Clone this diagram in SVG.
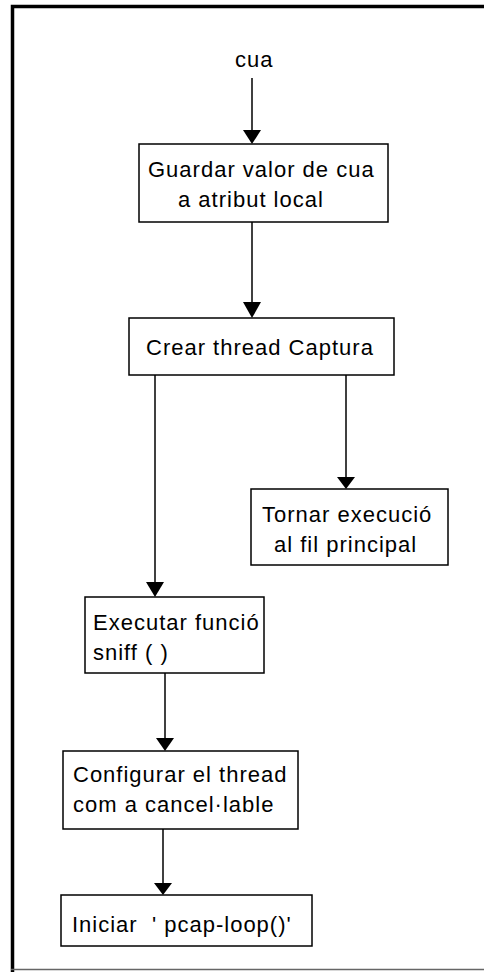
<svg xmlns="http://www.w3.org/2000/svg" width="484" height="972" viewBox="0 0 484 972">
<style>
.box{fill:#fff;stroke:#000;stroke-width:1.5}
.t{font-family:"Liberation Sans",Arial,sans-serif;font-size:22px;letter-spacing:1px;fill:#000;white-space:pre}
.c{stroke:#000;stroke-width:1.5;fill:none}
.ah{fill:#000}
</style>
<rect width="484" height="972" fill="#fff"/>
<g id="frame">
<path d="M12.5 972 V6.5 H484" fill="none" stroke="#000" stroke-width="3.5"/>
<line x1="11" y1="969.5" x2="484" y2="969.5" stroke="#666" stroke-width="1.5"/>
</g>
<g id="connectors">
<line class="c" x1="252" y1="78" x2="252" y2="132"/>
<polygon class="ah" points="243,130 261,130 252,144"/>
<line class="c" x1="252" y1="222" x2="252" y2="304"/>
<polygon class="ah" points="243,302 261,302 252,318"/>
<line class="c" x1="155" y1="375" x2="155" y2="584"/>
<polygon class="ah" points="146,582 164,582 155,597"/>
<line class="c" x1="346" y1="375" x2="346" y2="479"/>
<polygon class="ah" points="337,477 355,477 346,489"/>
<line class="c" x1="165" y1="673" x2="165" y2="740"/>
<polygon class="ah" points="156,738 174,738 165,751"/>
<line class="c" x1="163" y1="829" x2="163" y2="885"/>
<polygon class="ah" points="154,883 172,883 163,895"/>
</g>
<g id="start">
<text class="t" x="235" y="67">cua</text>
</g>
<g id="n1">
<rect class="box" x="139" y="144" width="249" height="78"/>
<text class="t" x="148" y="177">Guardar valor de cua</text>
<text class="t" x="178" y="207">a atribut local</text>
</g>
<g id="n2">
<rect class="box" x="129" y="318" width="265" height="57"/>
<text class="t" x="146" y="355">Crear thread Captura</text>
</g>
<g id="n3">
<rect class="box" x="251" y="489" width="197" height="76"/>
<text class="t" x="262" y="522">Tornar execució</text>
<text class="t" x="274" y="552">al fil principal</text>
</g>
<g id="n4">
<rect class="box" x="85" y="597" width="179" height="76"/>
<text class="t" x="93" y="630">Executar funció</text>
<text class="t" x="93" y="660">sniff ( )</text>
</g>
<g id="n5">
<rect class="box" x="63" y="751" width="235" height="78"/>
<text class="t" x="73" y="782">Configurar el thread</text>
<text class="t" x="73" y="812">com a cancel·lable</text>
</g>
<g id="n6">
<rect class="box" x="61" y="895" width="251" height="51"/>
<text class="t" x="72" y="932" xml:space="preserve">Iniciar  ' pcap-loop()'</text>
</g>
</svg>
